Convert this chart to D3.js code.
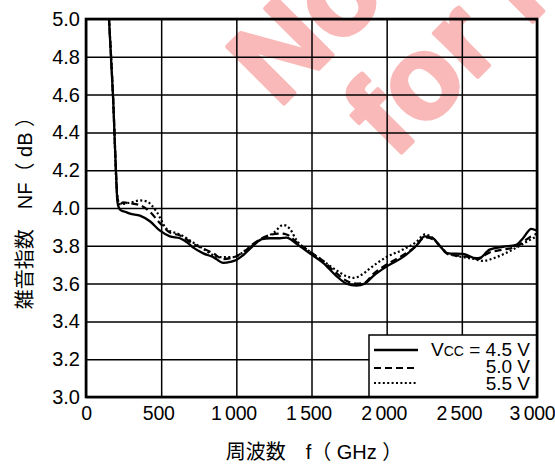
<!DOCTYPE html>
<html>
<head>
<meta charset="utf-8">
<script src="https://cdn.jsdelivr.net/npm/d3@7"></script>
<style>
  html, body { margin: 0; padding: 0; background: #fff; }
  svg { display: block; font-family: "Liberation Sans", Arial, "Noto Sans CJK JP", sans-serif; }
</style>
</head>
<body>
<svg id="chart" width="555" height="465"></svg>
<script>
// Noise figure vs frequency, three supply voltages
const xTicks = [0, 500, 1000, 1500, 2000, 2500, 3000];
const xTickLabels = ["0", "500", "1\u2009000", "1\u2009500", "2\u2009000", "2\u2009500", "3\u2009000"];
const yTicks = [3.0, 3.2, 3.4, 3.6, 3.8, 4.0, 4.2, 4.4, 4.6, 4.8, 5.0];

const seriesNames = ["4.5 V", "5.0 V", "5.5 V"];

const freq45 = [153, 181, 204, 208, 215, 228, 260, 292, 359, 425, 492, 558, 625, 669, 714, 780, 847, 913, 960, 1000, 1045, 1112, 1170, 1223, 1290, 1334, 1400, 1488, 1577, 1666, 1732, 1799, 1854, 1910, 1998, 2108, 2197, 2253, 2308, 2353, 2408, 2508, 2608, 2685, 2774, 2862, 2907, 2962, 3000];
const nf45 =   [5.0, 4.57, 4.10, 4.04, 4.01, 3.99, 3.98, 3.97, 3.96, 3.93, 3.88, 3.85, 3.84, 3.82, 3.79, 3.76, 3.74, 3.71, 3.715, 3.725, 3.75, 3.80, 3.835, 3.84, 3.84, 3.843, 3.81, 3.76, 3.71, 3.64, 3.60, 3.59, 3.60, 3.64, 3.69, 3.74, 3.80, 3.85, 3.84, 3.80, 3.76, 3.757, 3.73, 3.78, 3.795, 3.805, 3.84, 3.89, 3.88];

const freq50 = [153, 181, 204, 210, 225, 248, 292, 359, 425, 492, 558, 625, 714, 847, 913, 1000, 1060, 1112, 1170, 1290, 1334, 1400, 1488, 1577, 1666, 1732, 1799, 1854, 1910, 1998, 2108, 2197, 2253, 2308, 2353, 2408, 2508, 2608, 2685, 2774, 2862, 2907, 2962, 3000];
const nf50 =   [5.0, 4.57, 4.12, 4.05, 4.02, 4.03, 4.025, 4.015, 3.98, 3.92, 3.87, 3.855, 3.81, 3.76, 3.73, 3.745, 3.775, 3.81, 3.84, 3.865, 3.86, 3.82, 3.77, 3.72, 3.655, 3.615, 3.60, 3.605, 3.65, 3.70, 3.75, 3.80, 3.845, 3.835, 3.80, 3.755, 3.745, 3.735, 3.765, 3.78, 3.795, 3.82, 3.85, 3.865];

const freq55 = [153, 181, 204, 212, 226, 300, 359, 403, 470, 536, 625, 758, 891, 980, 1068, 1157, 1250, 1312, 1356, 1400, 1488, 1577, 1666, 1730, 1777, 1840, 1888, 1998, 2108, 2197, 2253, 2308, 2353, 2408, 2508, 2580, 2641, 2730, 2862, 2950, 3000];
const nf55 =   [5.0, 4.57, 4.10, 4.04, 4.02, 4.03, 4.04, 4.035, 3.98, 3.89, 3.86, 3.795, 3.74, 3.74, 3.78, 3.83, 3.87, 3.91, 3.89, 3.83, 3.77, 3.72, 3.67, 3.64, 3.63, 3.65, 3.68, 3.74, 3.78, 3.82, 3.86, 3.84, 3.80, 3.76, 3.74, 3.73, 3.72, 3.74, 3.79, 3.83, 3.85];

const svg = d3.select("#chart");
const plotL = 86, plotR = 537, plotT = 19, plotB = 397;

const x = d3.scaleLinear().domain([0, 3000]).range([plotL, plotR]);
const y = d3.scaleLinear().domain([3.0, 5.0]).range([plotB, plotT]);

// status watermark, drawn beneath the grid
const wm = svg.append("g")
  .attr("transform", "rotate(-45)")
  .attr("fill", "#fab9b9")
  .attr("stroke", "#fab9b9")
  .attr("stroke-width", 4)
  .attr("stroke-linejoin", "round")
  .attr("font-weight", "bold")
  .attr("font-size", 117);
wm.append("text").attr("x", 120).attr("y", 274).text("Not Recommended");
wm.append("text").attr("x", 165).attr("y", 392).text("for New Design");

// grid
const grid = svg.append("g");
grid.append("g")
  .attr("transform", `translate(0,${plotB})`)
  .call(d3.axisBottom(x).tickValues(xTicks).tickSize(-(plotB - plotT)).tickFormat(""))
  .call(g => g.select(".domain").remove())
  .call(g => g.selectAll("line").attr("stroke", "#000").attr("stroke-width", 1.5));
grid.append("g")
  .attr("transform", `translate(${plotL},0)`)
  .call(d3.axisLeft(y).tickValues(yTicks).tickSize(-(plotR - plotL)).tickFormat(""))
  .call(g => g.select(".domain").remove())
  .call(g => g.selectAll("line").attr("stroke", "#000").attr("stroke-width", 1.5));

// tick labels
const xAxis = svg.append("g")
  .attr("transform", `translate(0,${plotB})`)
  .call(d3.axisBottom(x).tickValues(xTicks).tickSize(0).tickPadding(9)
    .tickFormat((d, i) => xTickLabels[i]));
xAxis.select(".domain").remove();
xAxis.selectAll("text").attr("font-size", 19.5).attr("fill", "#000")
  .attr("dx", (d, i) => i === 0 ? 0 : (i === xTicks.length - 1 ? -5 : -3))
  .attr("letter-spacing", -0.3)
  .attr("font-family", "Liberation Sans, Arial, sans-serif");

const yAxis = svg.append("g")
  .attr("transform", `translate(${plotL},0)`)
  .call(d3.axisLeft(y).tickValues(yTicks).tickSize(0).tickPadding(6)
    .tickFormat(d3.format(".1f")));
yAxis.select(".domain").remove();
yAxis.selectAll("text").attr("font-size", 20).attr("fill", "#000")
  .attr("font-family", "Liberation Sans, Arial, sans-serif");

// curves
svg.append("clipPath").attr("id", "plotclip")
  .append("rect").attr("x", plotL).attr("y", plotT).attr("width", plotR - plotL).attr("height", plotB - plotT);

const line = d3.line()
  .x(d => x(d[0])).y(d => y(d[1]))
  .curve(d3.curveMonotoneX);

const series = [
  { f: freq45, v: nf45, dash: null, w: 2.3 },
  { f: freq50, v: nf50, dash: "7,4", w: 2.2 },
  { f: freq55, v: nf55, dash: "2,2.4", w: 2.2 }
];

const curves = svg.append("g").attr("clip-path", "url(#plotclip)");
series.forEach(s => {
  curves.append("path")
    .datum(d3.zip(s.f, s.v))
    .attr("d", line)
    .attr("fill", "none")
    .attr("stroke", "#000")
    .attr("stroke-width", s.w)
    .attr("stroke-linejoin", "round")
    .attr("stroke-dasharray", s.dash);
});

// legend
const lg = svg.append("g");
lg.append("rect")
  .attr("x", 369).attr("y", 335).attr("width", plotR - 369).attr("height", plotB - 335)
  .attr("fill", "#fff").attr("stroke", "#000").attr("stroke-width", 1.5);
const legendRows = [350, 368, 383];
const legendBase = [356, 373, 390];
series.forEach((s, i) => {
  lg.append("line")
    .attr("x1", 374).attr("x2", 418)
    .attr("y1", legendRows[i]).attr("y2", legendRows[i])
    .attr("stroke", "#000").attr("stroke-width", s.w)
    .attr("stroke-dasharray", s.dash);
});
const lt = lg.append("text")
  .attr("x", 530).attr("y", legendBase[0])
  .attr("text-anchor", "end").attr("font-size", 19);
lt.append("tspan").text("V");
lt.append("tspan").attr("font-size", 14).text("CC");
lt.append("tspan").text(" = " + seriesNames[0]);
[1, 2].forEach(i => {
  lg.append("text")
    .attr("x", 530).attr("y", legendBase[i])
    .attr("text-anchor", "end").attr("font-size", 19)
    .text(seriesNames[i]);
});

// frame
svg.append("rect")
  .attr("x", plotL).attr("y", plotT).attr("width", plotR - plotL).attr("height", plotB - plotT)
  .attr("fill", "none").attr("stroke", "#000").attr("stroke-width", 2.6);

// axis titles
svg.append("text")
  .attr("x", 314).attr("y", 459)
  .attr("text-anchor", "middle").attr("font-size", 20)
  .attr("font-family", "Liberation Sans, 'Noto Sans CJK JP', sans-serif")
  .text("周波数　f（ GHz ）");

svg.append("text")
  .attr("transform", "translate(32,208) rotate(-90)")
  .attr("text-anchor", "middle").attr("font-size", 20)
  .attr("font-family", "Liberation Sans, 'Noto Sans CJK JP', sans-serif")
  .text("雑音指数　NF（ dB ）");
</script>
</body>
</html>
